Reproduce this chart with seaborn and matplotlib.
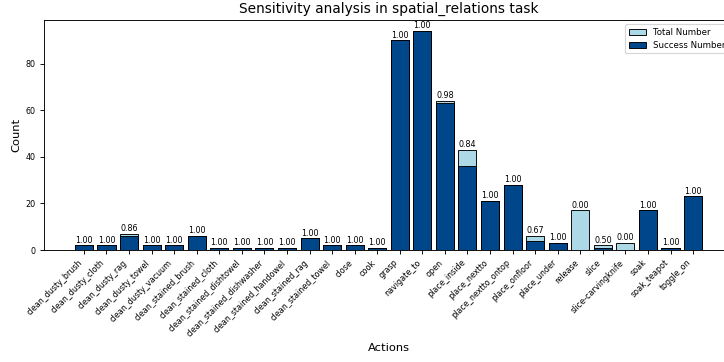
import matplotlib
matplotlib.use("Agg")
import matplotlib.pyplot as plt
import seaborn as sns
import pandas as pd

actions = ["clean_dusty_brush", "clean_dusty_cloth", "clean_dusty_rag", "clean_dusty_towel",
           "clean_dusty_vacuum", "clean_stained_brush", "clean_stained_cloth",
           "clean_stained_dishtowel", "clean_stained_dishwasher", "clean_stained_handowel",
           "clean_stained_rag", "clean_stained_towel", "close", "cook", "grasp", "navigate_to",
           "open", "place_inside", "place_nextto", "place_nextto_ontop", "place_onfloor",
           "place_under", "release", "slice", "slice-carvingknife", "soak", "soak_teapot",
           "toggle_on"]
total = [2, 2, 7, 2, 2, 6, 1, 1, 1, 1, 5, 2, 2, 1, 90, 94, 64, 43, 21, 28, 6, 3, 17, 2, 3, 17, 1, 23]
success = [2, 2, 6, 2, 2, 6, 1, 1, 1, 1, 5, 2, 2, 1, 90, 94, 63, 36, 21, 28, 4, 3, 0, 1, 0, 17, 1, 23]

df = pd.DataFrame({"Action": actions, "Total": total, "Success": success})

DPI = 82.5
fig = plt.figure(figsize=(724 / DPI, 362 / DPI), dpi=DPI)
ax = fig.add_axes([44 / 724, 112 / 362, 689 / 724, 230 / 362])

sns.barplot(data=df, x="Action", y="Total", order=actions, color="lightblue",
            edgecolor="black", linewidth=0.8, width=0.8, label="Total Number",
            saturation=1, ax=ax)
sns.barplot(data=df, x="Action", y="Success", order=actions, color="#00468B",
            edgecolor="black", linewidth=0.8, width=0.8, label="Success Number",
            saturation=1, ax=ax)

for i, (t, s) in enumerate(zip(total, success)):
    ax.text(i, t + 0.3, f"{s / t:.2f}", ha="center", va="bottom", fontsize=7)

ax.set_xlim(-1.77, 28.77)
ax.set_ylim(0, 98.7)
ax.set_title("Sensitivity analysis in spatial_relations task", fontsize=12)
ax.set_xlabel("Actions", fontsize=10)
ax.set_ylabel("Count", fontsize=10)
ax.tick_params(axis="y", labelsize=7)
ax.set_xticks(range(len(actions)))
ax.set_xticklabels(actions, rotation=45, ha="right", fontsize=7)
ax.legend(loc="upper right", fontsize=7.5)

fig.savefig("out.png", dpi=DPI)
